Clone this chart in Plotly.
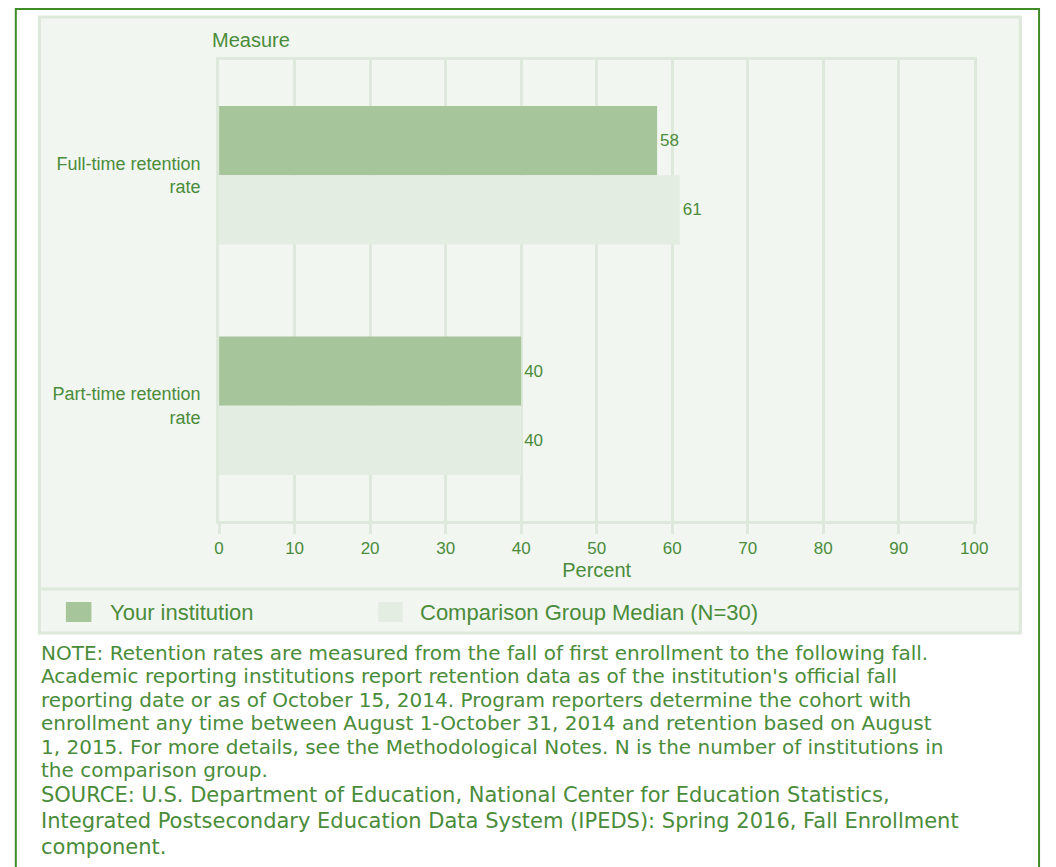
import plotly.graph_objects as go

W, H = 1056, 867

categories = ["Full-time retention<br>rate", "Part-time retention<br>rate"]
series_names = ["Your institution", "Comparison Group Median (N=30)"]
your_values = [58, 40]
comparison_values = [61, 40]
x_tick_values = [0, 10, 20, 30, 40, 50, 60, 70, 80, 90, 100]

note_lines = [
    "NOTE: Retention rates are measured from the fall of first enrollment to the following fall.",
    "Academic reporting institutions report retention data as of the institution's official fall",
    "reporting date or as of October 15, 2014. Program reporters determine the cohort with",
    "enrollment any time between August 1-October 31, 2014 and retention based on August",
    "1, 2015. For more details, see the Methodological Notes. N is the number of institutions in",
    "the comparison group.",
]
source_lines = [
    "SOURCE: U.S. Department of Education, National Center for Education Statistics,",
    "Integrated Postsecondary Education Data System (IPEDS): Spring 2016, Fall Enrollment",
    "component.",
]

GREEN_TEXT = "#4a8c3a"
BAR1 = "#a6c59a"
BAR2 = "#e3ede1"
GRID = "#dde9da"
PANEL = "#f1f6f0"
BORDER = "#3f8b27"
FONT = "Liberation Sans, Arial, sans-serif"
NOTE_FONT = "DejaVu Sans, Liberation Sans, sans-serif"


def px(x):
    return x / W


def py(y):
    return 1 - y / H


fig = go.Figure()
for name, vals, col in [(series_names[0], your_values, BAR1),
                        (series_names[1], comparison_values, BAR2)]:
    fig.add_trace(go.Bar(
        y=categories, x=vals, name=name, orientation="h",
        marker=dict(color=col, line=dict(width=0)),
        text=[str(v) for v in vals], textposition="outside",
        textfont=dict(size=17, color=GREEN_TEXT, family=FONT),
        cliponaxis=False, showlegend=False,
    ))

shapes = [
    dict(type="rect", xref="paper", yref="paper", x0=px(11), x1=px(1053), y0=py(9), y1=py(900),
         line=dict(color=BORDER, width=2), fillcolor="white", layer="below"),
    dict(type="rect", xref="paper", yref="paper", x0=px(35), x1=px(1034), y0=py(17), y1=py(633),
         line=dict(color=GRID, width=3), fillcolor=PANEL, layer="below"),
    dict(type="line", xref="paper", yref="paper", x0=px(35), x1=px(1034), y0=py(589), y1=py(589),
         line=dict(color=GRID, width=3), layer="below"),
    dict(type="rect", xref="paper", yref="paper", x0=px(62), x1=px(88), y0=py(602), y1=py(622),
         line=dict(width=0), fillcolor=BAR1),
    dict(type="rect", xref="paper", yref="paper", x0=px(380), x1=px(405), y0=py(602), y1=py(622),
         line=dict(width=0), fillcolor=BAR2),
]

annotations = [
    dict(text="Measure", xref="paper", yref="paper", x=px(209), y=py(40), xanchor="left",
         yanchor="middle", showarrow=False, font=dict(size=20, color=GREEN_TEXT, family=FONT)),
    dict(text=series_names[0], xref="paper", yref="paper", x=px(105), y=py(612), xanchor="left",
         yanchor="middle", showarrow=False, font=dict(size=22, color=GREEN_TEXT, family=FONT)),
    dict(text=series_names[1], xref="paper", yref="paper", x=px(421), y=py(612), xanchor="left",
         yanchor="middle", showarrow=False, font=dict(size=22, color=GREEN_TEXT, family=FONT)),
]
note_y = [653, 676.4, 699.8, 723.2, 746.6, 770]
for line, yy in zip(note_lines, note_y):
    annotations.append(dict(text=line, xref="paper", yref="paper", x=px(36), y=py(yy),
                            xanchor="left", yanchor="middle", showarrow=False, borderpad=0,
                            font=dict(size=20, color=GREEN_TEXT, family=NOTE_FONT)))
source_y = [795, 821, 847]
for line, yy in zip(source_lines, source_y):
    annotations.append(dict(text=line, xref="paper", yref="paper", x=px(36), y=py(yy),
                            xanchor="left", yanchor="middle", showarrow=False, borderpad=0,
                            font=dict(size=21, color=GREEN_TEXT, family=NOTE_FONT)))

fig.update_layout(
    width=W, height=H, autosize=False,
    margin=dict(l=0, r=0, t=0, b=0),
    paper_bgcolor="white", plot_bgcolor="rgba(0,0,0,0)",
    barmode="group", bargap=0.4, bargroupgap=0,
    font=dict(family=FONT, color=GREEN_TEXT),
    shapes=shapes, annotations=annotations,
    xaxis=dict(
        domain=[px(218), px(987)], range=[0, 100], tickvals=x_tick_values,
        showgrid=True, gridcolor=GRID, gridwidth=3, zeroline=False,
        showline=True, linecolor=GRID, linewidth=3, mirror=True,
        ticks="outside", ticklen=10, tickwidth=3, tickcolor=GRID,
        tickfont=dict(size=17, color=GREEN_TEXT, family=FONT),
        title=dict(text="Percent", font=dict(size=20, color=GREEN_TEXT, family=FONT), standoff=6),
        fixedrange=True,
    ),
    yaxis=dict(
        domain=[py(521), py(60)], autorange="reversed",
        categoryorder="array", categoryarray=categories,
        showgrid=False, zeroline=False,
        showline=True, linecolor=GRID, linewidth=3, mirror=True,
        ticks="", ticklabelstandoff=12,
        tickfont=dict(size=18, color=GREEN_TEXT, family=FONT),
        fixedrange=True,
    ),
)

post = ("document.body.style.margin='0';document.body.style.overflow='hidden';"
        "var gd=document.getElementById('{plot_id}');"
        "Plotly.relayout(gd,{width:1056,height:867});")

fig.write_html("out.html", config={"responsive": False, "displayModeBar": False},
               post_script=post)
